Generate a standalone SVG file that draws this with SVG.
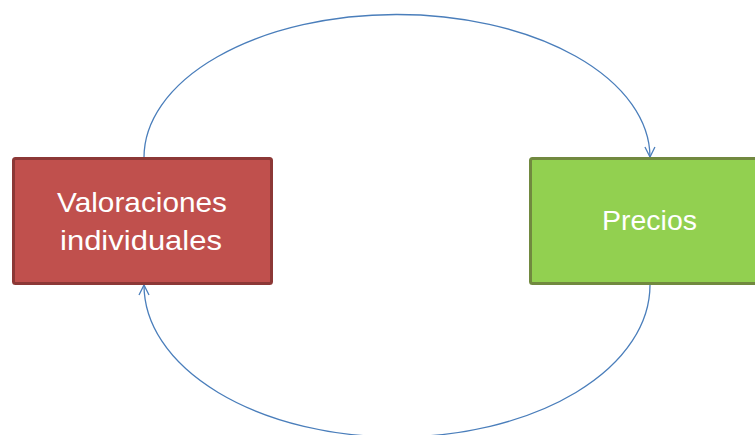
<svg xmlns="http://www.w3.org/2000/svg" width="755" height="435" viewBox="0 0 755 435">
<defs>
<style>
.lbl{font-family:"Liberation Sans",Arial,sans-serif;font-size:28px;fill:#ffffff;text-anchor:middle}
.conn{fill:none;stroke:#4A7EBB;stroke-width:1.3}
</style>
<marker id="arr" viewBox="0 0 12 12" refX="11" refY="6" markerWidth="12" markerHeight="12" markerUnits="userSpaceOnUse" orient="auto">
<path d="M1,1 L11,6 L1,11" fill="none" stroke="#4A7EBB" stroke-width="1.3"/>
</marker>
</defs>
<rect width="755" height="435" fill="#ffffff"/>
<g id="connectors">
<path class="conn" d="M144,158 A253,143 0 0 1 650,157" marker-end="url(#arr)"/>
<path class="conn" d="M650,285 A253,152 0 0 1 144,285" marker-end="url(#arr)"/>
</g>
<g id="valoraciones">
<rect x="13.5" y="158.5" width="258" height="125" rx="2" fill="#C0504D" stroke="#8C3836" stroke-width="3"/>
<text class="lbl" x="142" y="212" textLength="170" lengthAdjust="spacingAndGlyphs">Valoraciones</text>
<text class="lbl" x="141" y="250" textLength="162" lengthAdjust="spacingAndGlyphs">individuales</text>
</g>
<g id="precios">
<rect x="530.5" y="158.5" width="240" height="125" rx="2" fill="#92D050" stroke="#71893F" stroke-width="3"/>
<text class="lbl" x="649.5" y="230" textLength="95" lengthAdjust="spacingAndGlyphs">Precios</text>
</g>
</svg>
